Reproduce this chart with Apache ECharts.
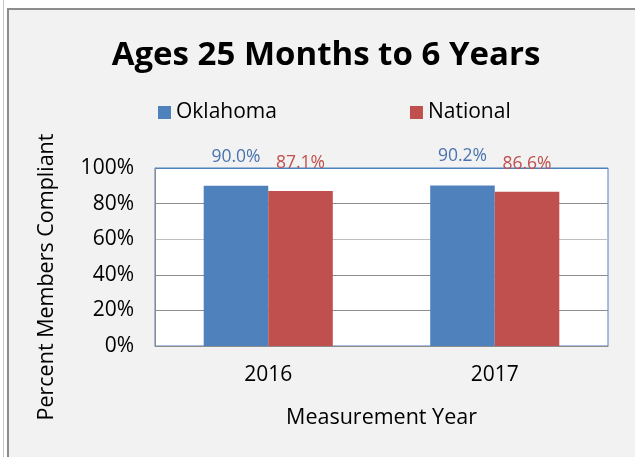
<!DOCTYPE html>
<html>
<head>
<meta charset="utf-8">
<script src="https://cdn.jsdelivr.net/npm/echarts@6/dist/echarts.min.js"></script>
<style>
html,body{margin:0;padding:0;background:#ffffff;}
#chart{width:635px;height:457px;}
</style>
</head>
<body>
<div id="chart"></div>
<script>
const categories = ['2016', '2017'];
const oklahoma = [90.0, 90.2];
const national = [87.1, 86.6];
const yTicks = [0, 20, 40, 60, 80, 100];

const FONT = '"Open Sans", Lato, sans-serif';
const chart = echarts.init(document.getElementById('chart'));
chart.setOption({
  backgroundColor: '#ffffff',
  animation: false,
  graphic: [
    { type: 'line', shape: { x1: 3.5, y1: 0, x2: 3.5, y2: 457 }, style: { stroke: '#c8c8c8', lineWidth: 1 }, z: -10 },
    { type: 'rect', shape: { x: 8, y: 9, width: 640, height: 460 }, style: { fill: '#f2f2f2', stroke: '#8c8c8c', lineWidth: 2 }, z: -10 }
  ],
  title: {
    text: 'Ages 25 Months to 6 Years',
    left: 321, top: 34, textAlign: 'center',
    textStyle: { fontFamily: FONT, fontSize: 33, fontWeight: 'bold', color: '#000' }
  },
  legend: {
    data: ['Oklahoma', 'National'],
    top: 97, left: 153,
    itemWidth: 13, itemHeight: 13, itemGap: 133,
    icon: 'rect',
    textStyle: { fontFamily: FONT, fontSize: 21, color: '#000' }
  },
  grid: {
    left: 155, right: 27, top: 168, bottom: 111,
    show: true, backgroundColor: '#ffffff', borderColor: '#4f81bd', borderWidth: 1
  },
  xAxis: {
    type: 'category', data: categories,
    name: 'Measurement Year', nameLocation: 'middle', nameGap: 61,
    nameTextStyle: { fontFamily: FONT, fontSize: 21.5, color: '#000' },
    axisLine: { lineStyle: { color: '#8c8c8c' } },
    axisTick: { show: false },
    axisLabel: { fontFamily: FONT, fontSize: 21, color: '#000', margin: 19 }
  },
  yAxis: {
    type: 'value', min: 0, max: 100, interval: 20,
    name: 'Percent Members Compliant', nameLocation: 'middle', nameGap: 97, nameRotate: 90,
    nameTextStyle: { fontFamily: FONT, fontSize: 21.5, color: '#000', padding: [0, 40, 0, 0] },
    axisLine: { show: true, lineStyle: { color: '#8c8c8c' } },
    axisTick: { show: false },
    splitLine: { lineStyle: { color: ['#8c8c8c', '#8c8c8c', '#8c8c8c', '#bfbfbf', '#8c8c8c', '#4f81bd'] } },
    axisLabel: { fontFamily: FONT, fontSize: 21, color: '#000', margin: 21, formatter: v => yTicks.includes(v) ? v + '%' : '' }
  },
  series: [
    {
      name: 'Oklahoma', type: 'bar', data: oklahoma,
      barGap: '0%', barCategoryGap: '43%',
      itemStyle: { color: '#4f81bd' },
      label: { show: true, position: 'top', offset: [0, -15], fontFamily: FONT, fontSize: 17.5, color: '#4a74b0', formatter: p => p.value.toFixed(1) + '%' }
    },
    {
      name: 'National', type: 'bar', data: national,
      itemStyle: { color: '#c0504d' },
      label: { show: true, position: 'top', offset: [0, -14], fontFamily: FONT, fontSize: 17.5, color: '#c0504d', formatter: p => p.value.toFixed(1) + '%' }
    }
  ]
});
</script>
</body>
</html>
